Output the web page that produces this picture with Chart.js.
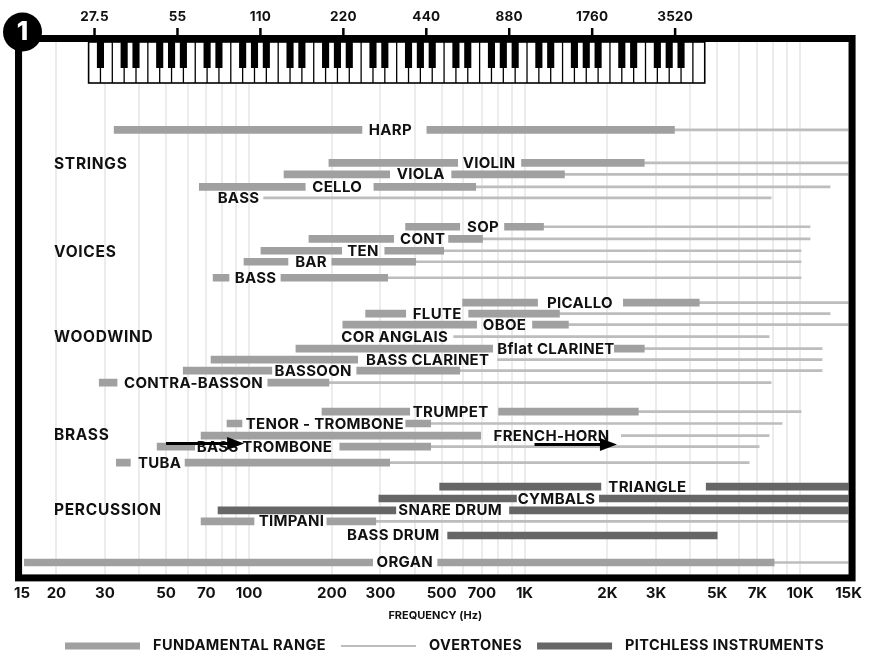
<!DOCTYPE html>
<html><head><meta charset="utf-8">
<script src="https://cdn.jsdelivr.net/npm/chart.js@4.4.1/dist/chart.umd.min.js"></script>
<style>html,body{margin:0;padding:0;background:#fff;}</style>
</head><body>
<canvas id="c" width="872" height="654"></canvas>
<script>
const FONT = 'Inter, "DejaVu Sans", sans-serif';
const INK = '#111111';
const FUND = '#a0a0a0', OVER = '#bdbdbd', PITCH = '#666666';

// ---- data ----
const rowNames = ['HARP','VIOLIN','VIOLA','CELLO','BASS','SOP','CONT','TEN','BAR','BASS','PICALLO','FLUTE','OBOE','COR ANGLAIS','Bflat CLARINET','BASS CLARINET','BASSOON','CONTRA-BASSON','TRUMPET','TENOR - TROMBONE','FRENCH-HORN','BASS TROMBONE','TUBA','TRIANGLE','CYMBALS','SNARE DRUM','TIMPANI','BASS DRUM','ORGAN'];
const rowSlots = [0,2.84,3.84,4.91,5.86,8.36,9.40,10.43,11.38,12.76,14.91,15.86,16.81,17.84,18.88,19.83,20.78,21.81,24.31,25.34,26.38,27.33,28.71,30.78,31.81,32.84,33.79,35.0,37.33];
const labelFreqs = [326,744,420,209,91.6,707,427,259,168,105.6,1589,482,846,338,1301,445,171,62.9,539,188.5,1253,113.8,47.4,2790,1306,537,142.6,334,367.5];
const fundamentalRanges = [
  [[32.4,257],[442,3500]],
  [[195,572],[975,2720]],
  [[134,324],[544,1396]],
  [[66,160],[284,665]],
  [],
  [[370,582],[846,1172]],
  [[165,335],[530,704]],
  [[110.5,217],[311,509]],
  [[95.9,138.5],[199.8,402.8]],
  [[74.1,84.6],[130.6,318.8]],
  [[596,1115],[2284,4307]],
  [[265,370.5],[627,1339]],
  [[219,670],[1069,1443]],
  [],
  [[148,766],[2119,2721]],
  [[72.8,248]],
  [[57.7,121],[246,582]],
  [[28.6,33.2],[117,195]],
  [[184,383],[805,2588]],
  [[83.2,94.3],[370.5,456.5]],
  [[67,693]],
  [[46.4,63.5],[213.6,456.5]],
  [[33,37.1],[58.6,324]],
  [], [], [],
  [[67,104.3],[191.7,288.5]],
  [],
  [[15.3,281],[484,8052]]
];
const overtoneRanges = [
  [3500,15000],[2720,15000],[1396,15000],[665,12850],[113,7850],
  [1172,10870],[704,10870],[509,10080],[402.8,10080],[318.8,10080],
  [4307,15000],[1339,12850],[1443,15000],[553,7722],[2721,12015],[798,12015],[582,12015],[195,7850],
  [2588,10080],[456.5,8607],[2246,7722],[456.5,7103],[324,6534],
  null,null,null,[288.5,15000],null,
  [8052,15000]
];
const pitchlessRanges = [
  [],[],[],[],[],[],[],[],[],[],[],[],[],[],[],[],[],[],[],[],[],[],[],
  [[492,1893],[4564,15000]],
  [[296,935],[1869,15000]],
  [[77.2,341],[882,15000]],
  [],
  [[526,5004]],
  []
];
const groupNames = ['STRINGS','VOICES','WOODWIND','BRASS','PERCUSSION'];
const groupSlots = [2.93,10.52,17.84,26.29,32.76];
const arrows = [[50,96,27.07],[1087,2164,27.16]];
const pianoMarks = [27.5,55,110,220,440,880,1760,3520];
const tickValues = [15,20,30,50,70,100,200,300,500,700,1000,2000,3000,5000,7000,10000,15000];
const tickLabels = ['15','20','30','50','70','100','200','300','500','700','1K','2K','3K','5K','7K','10K','15K'];

// grid positions (every 1..9 x decade)
const gridValues = [];
[10,100,1000,10000].forEach(d => { for (let m = 1; m <= 9; m++) { const v = m*d; if (v >= 20 && v <= 10000) gridValues.push(v); } });
const allTicks = Array.from(new Set(gridValues.concat(tickValues))).sort((a,b)=>a-b);

function flatten(ranges) {
  const out = [];
  ranges.forEach((segs, i) => segs.forEach(s => out.push({x: s, y: rowSlots[i]})));
  return out;
}
const fundData = flatten(fundamentalRanges);
const overData = flatten(overtoneRanges.map(r => r ? [r] : []));
const pitchData = flatten(pitchlessRanges);

function spacing(ctx, px) { if ('letterSpacing' in ctx) ctx.letterSpacing = px + 'px'; }

const decorPlugin = {
  id: 'decor',
  afterDatasetsDraw(chart) {
    const ctx = chart.ctx, xs = chart.scales.x, ys = chart.scales.y, ca = chart.chartArea;
    ctx.save();
    ctx.fillStyle = INK;
    ctx.textBaseline = 'middle';
    ctx.textAlign = 'center';
    ctx.font = '700 15px ' + FONT;
    spacing(ctx, 0.3);
    rowNames.forEach((n, i) => {
      ctx.fillText(n, xs.getPixelForValue(labelFreqs[i]), ys.getPixelForValue(rowSlots[i]) + 0.5);
    });
    ctx.textAlign = 'left';
    ctx.font = '700 15.5px ' + FONT;
    spacing(ctx, 0.7);
    groupNames.forEach((g, i) => ctx.fillText(g, ca.left + 32, ys.getPixelForValue(groupSlots[i]) + 0.5));
    spacing(ctx, 0);
    // arrows
    ctx.strokeStyle = '#000'; ctx.fillStyle = '#000'; ctx.lineWidth = 3;
    arrows.forEach(a => {
      const x1 = xs.getPixelForValue(a[0]), x2 = xs.getPixelForValue(a[1]), y = ys.getPixelForValue(a[2]);
      const hl = 17, hh = 6.5;
      ctx.beginPath(); ctx.moveTo(x1, y); ctx.lineTo(x2 - hl + 1, y); ctx.stroke();
      ctx.beginPath(); ctx.moveTo(x2, y); ctx.lineTo(x2 - hl, y - hh); ctx.lineTo(x2 - hl, y + hh); ctx.closePath(); ctx.fill();
    });
    ctx.restore();
  },
  afterDraw(chart) {
    const ctx = chart.ctx, xs = chart.scales.x, ca = chart.chartArea;
    ctx.save();
    // keyboard
    const w = (xs.getPixelForValue(55) - xs.getPixelForValue(27.5)) / 7;
    const kl = xs.getPixelForValue(27.5) - w/2, kt = ca.top, kb = ca.top + 41, nW = 52;
    ctx.fillStyle = '#fff';
    ctx.fillRect(kl, kt, w*nW, kb - kt);
    ctx.strokeStyle = '#000'; ctx.lineWidth = 1.3;
    for (let i = 1; i < nW; i++) { ctx.beginPath(); ctx.moveTo(kl + i*w, kt); ctx.lineTo(kl + i*w, kb); ctx.stroke(); }
    ctx.lineWidth = 1.6;
    ctx.strokeRect(kl, kt, w*nW, kb - kt);
    const names = ['A','B','C','D','E','F','G'];
    ctx.fillStyle = '#000';
    const bw = w*0.6;
    for (let i = 0; i < nW - 1; i++) {
      const n = names[i % 7];
      if (n === 'A' || n === 'C' || n === 'D' || n === 'F' || n === 'G') {
        ctx.fillRect(kl + (i+1)*w - bw/2, kt, bw, 26);
      }
    }
    // frame
    ctx.strokeStyle = '#000'; ctx.lineWidth = 7;
    ctx.strokeRect(ca.left - 3.5, ca.top - 3.5, ca.right - ca.left + 7, ca.bottom - ca.top + 7);
    // top marks
    ctx.lineWidth = 2.5;
    ctx.fillStyle = INK;
    ctx.font = '700 13.5px ' + FONT;
    spacing(ctx, 0.2);
    ctx.textAlign = 'center'; ctx.textBaseline = 'middle';
    pianoMarks.forEach(v => {
      const x = xs.getPixelForValue(v);
      ctx.beginPath(); ctx.moveTo(x, ca.top - 14); ctx.lineTo(x, ca.top - 6); ctx.stroke();
      ctx.fillText(String(v), x, 17);
    });
    spacing(ctx, 0);
    // badge
    ctx.fillStyle = '#000';
    ctx.beginPath(); ctx.arc(22.5, 32, 19.5, 0, Math.PI*2); ctx.fill();
    ctx.fillStyle = '#fff';
    ctx.font = '800 26px ' + FONT;
    ctx.fillText('1', 22.5, 32);
    // legend
    ctx.font = '700 14.5px ' + FONT;
    spacing(ctx, 0.4);
    ctx.textAlign = 'left';
    let x = 65; const y = 646;
    chart.data.datasets.forEach(ds => {
      ctx.fillStyle = ds.backgroundColor;
      ctx.fillRect(x, y - ds.barThickness/2, 75, ds.barThickness);
      x += 75 + 13;
      ctx.fillStyle = INK;
      ctx.fillText(ds.label, x, y);
      x += ctx.measureText(ds.label).width + 15;
    });
    ctx.restore();
  }
};

new Chart(document.getElementById('c'), {
  type: 'bar',
  data: {
    datasets: [
      {label: 'FUNDAMENTAL RANGE', data: fundData, backgroundColor: FUND, barThickness: 7, grouped: false, order: 2},
      {label: 'OVERTONES', data: overData, backgroundColor: OVER, barThickness: 2, grouped: false, order: 3},
      {label: 'PITCHLESS INSTRUMENTS', data: pitchData, backgroundColor: PITCH, barThickness: 7, grouped: false, order: 1}
    ]
  },
  options: {
    indexAxis: 'y',
    responsive: false,
    animation: false,
    events: [],
    layout: {padding: {left: 22, right: 21, top: 42, bottom: 31.4}},
    plugins: {legend: {display: false}, tooltip: {enabled: false}},
    scales: {
      x: {
        type: 'logarithmic', min: 15, max: 15000, position: 'bottom', offset: false,
        afterBuildTicks: (s) => { s.ticks = allTicks.map(v => ({value: v})); },
        grid: {color: '#ececec', lineWidth: 2, drawTicks: false},
        border: {display: false},
        ticks: {
          autoSkip: false, maxRotation: 0, minRotation: 0, padding: 10, color: INK,
          font: {family: FONT, size: 15, weight: '700'},
          callback: (v) => { const i = tickValues.indexOf(v); return i >= 0 ? tickLabels[i] : ''; }
        },
        title: {display: true, text: 'FREQUENCY (Hz)', color: INK, font: {family: FONT, size: 11, weight: '700'}, padding: {top: -3, bottom: 0}}
      },
      y: {type: 'linear', min: -7.586, max: 38.36, reverse: true, offset: false, display: false, grid: {display: false}}
    }
  },
  plugins: [decorPlugin]
});
</script>
</body></html>
